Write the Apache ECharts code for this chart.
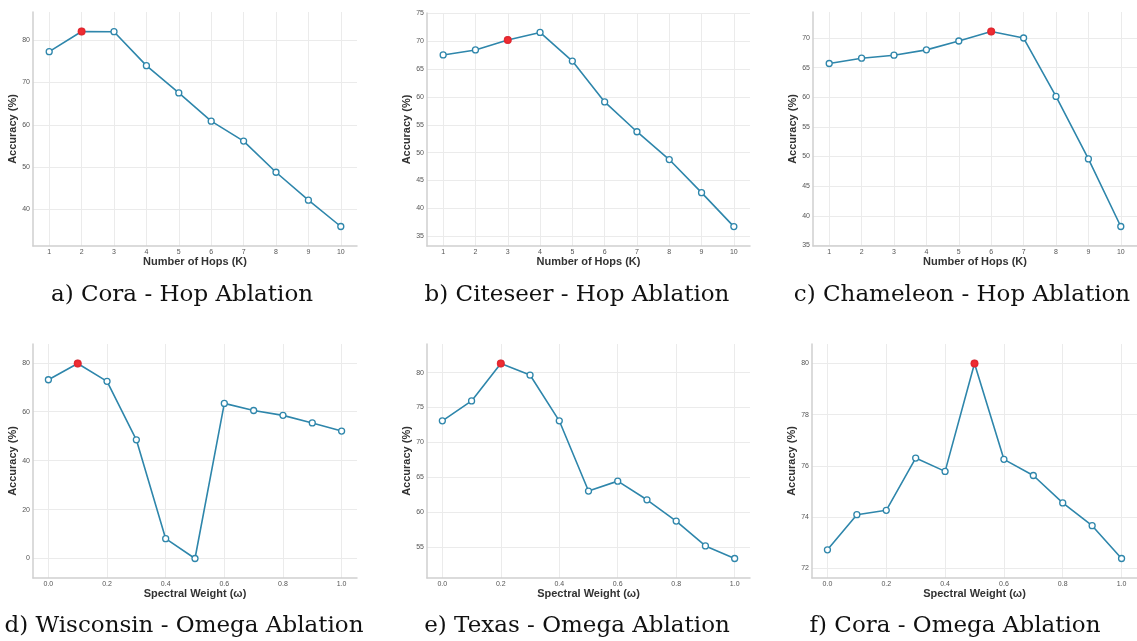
<!DOCTYPE html>
<html>
<head>
<meta charset="utf-8">
<script src="https://cdn.jsdelivr.net/npm/echarts@6/dist/echarts.min.js"></script>
<style>
html,body{margin:0;padding:0;background:#fff;}
#c{width:1137px;height:641px;}
</style>
</head>
<body>
<div id="c"></div>
<script>
// ---------- data ----------
const hopK = [1, 2, 3, 4, 5, 6, 7, 8, 9, 10];
const coraHop = [77.25, 82.0, 81.95, 73.95, 67.5, 60.85, 56.15, 48.8, 42.2, 36.0];
const citeseerHop = [67.55, 68.45, 70.25, 71.6, 66.45, 59.1, 53.75, 48.75, 42.8, 36.7];
const chameleonHop = [65.7, 66.6, 67.1, 68.0, 69.5, 71.1, 70.0, 60.15, 49.6, 38.2];

const omega = [0.0, 0.1, 0.2, 0.3, 0.4, 0.5, 0.6, 0.7, 0.8, 0.9, 1.0];
const wisconsinOmega = [73.05, 79.7, 72.4, 48.5, 8.1, 0.0, 63.4, 60.5, 58.5, 55.4, 52.1];
const texasOmega = [73.1, 75.95, 81.3, 79.65, 73.1, 63.05, 64.47, 61.8, 58.76, 55.2, 53.4];
const coraOmega = [72.73, 74.1, 74.27, 76.31, 75.79, 80.0, 76.26, 75.63, 74.56, 73.67, 72.39];

// highlighted (best) setting per panel
const bestHop = [2, 3, 6];        // Cora, Citeseer, Chameleon
const bestOmega = [0.1, 0.2, 0.5]; // Wisconsin, Texas, Cora

// tick labels
const hopTicks = [1, 2, 3, 4, 5, 6, 7, 8, 9, 10];
const omegaTicks = [0.0, 0.2, 0.4, 0.6, 0.8, 1.0];
const yTicksCoraHop = [40, 50, 60, 70, 80];
const yTicksCiteseerHop = [35, 40, 45, 50, 55, 60, 65, 70, 75];
const yTicksChameleonHop = [35, 40, 45, 50, 55, 60, 65, 70];
const yTicksWisconsin = [0, 20, 40, 60, 80];
const yTicksTexas = [55, 60, 65, 70, 75, 80];
const yTicksCoraOmega = [72, 74, 76, 78, 80];

const captions = [
  'a) Cora - Hop Ablation', 'b) Citeseer - Hop Ablation', 'c) Chameleon - Hop Ablation',
  'd) Wisconsin - Omega Ablation', 'e) Texas - Omega Ablation', 'f) Cora - Omega Ablation'
];
const xTitleHop = 'Number of Hops (K)';
const xTitleOmega = 'Spectral Weight (ω)';
const yTitle = 'Accuracy (%)';

// ---------- layout ----------
const panels = [
  {x: hopK, y: coraHop, best: bestHop[0], yt: yTicksCoraHop, xt: hopTicks, xmin: 0.5, xmax: 10.5, xname: xTitleHop, fmt: v => String(v),
   grid: {left: 33, top: 12, width: 324, height: 234}, cap: [182, 295]},
  {x: hopK, y: citeseerHop, best: bestHop[1], yt: yTicksCiteseerHop, xt: hopTicks, xmin: 0.5, xmax: 10.5, xname: xTitleHop, fmt: v => String(v),
   grid: {left: 427, top: 13, width: 323, height: 233}, cap: [577, 295]},
  {x: hopK, y: chameleonHop, best: bestHop[2], yt: yTicksChameleonHop, xt: hopTicks, xmin: 0.5, xmax: 10.5, xname: xTitleHop, fmt: v => String(v),
   grid: {left: 813, top: 12, width: 324, height: 234}, cap: [962, 295]},
  {x: omega, y: wisconsinOmega, best: bestOmega[0], yt: yTicksWisconsin, xt: omegaTicks, xmin: -0.0525, xmax: 1.0525, xname: xTitleOmega, fmt: v => Number(v).toFixed(1),
   grid: {left: 33, top: 344, width: 324, height: 234}, cap: [184, 626]},
  {x: omega, y: texasOmega, best: bestOmega[1], yt: yTicksTexas, xt: omegaTicks, xmin: -0.0525, xmax: 1.0525, xname: xTitleOmega, fmt: v => Number(v).toFixed(1),
   grid: {left: 427, top: 344, width: 323, height: 234}, cap: [577, 626]},
  {x: omega, y: coraOmega, best: bestOmega[2], yt: yTicksCoraOmega, xt: omegaTicks, xmin: -0.0525, xmax: 1.0525, xname: xTitleOmega, fmt: v => Number(v).toFixed(1),
   grid: {left: 812, top: 344, width: 325, height: 234}, cap: [955, 626]}
];

const LINE = '#2E86AB';
const RED = '#EE2228';
const SPINE = '#CFCFCF';
const GRIDC = '#EBEBEB';
const TICKC = '#555555';

const option = {
  backgroundColor: '#ffffff',
  animation: false,
  grid: [], xAxis: [], yAxis: [], series: [], graphic: []
};

panels.forEach((p, i) => {
  const lo = Math.min(...p.y), hi = Math.max(...p.y), pad = (hi - lo) * 0.1;
  option.grid.push(Object.assign({containLabel: false}, p.grid));
  option.xAxis.push({
    type: 'value', gridIndex: i, min: p.xmin, max: p.xmax,
    name: p.xname, nameLocation: 'middle', nameGap: 9,
    nameTextStyle: {fontFamily: 'Liberation Sans', fontWeight: 'bold', fontSize: 11, color: '#333'},
    axisLine: {show: true, onZero: false, lineStyle: {color: SPINE, width: 1.5}},
    axisTick: {show: false, customValues: p.xt},
    axisLabel: {customValues: p.xt, formatter: p.fmt, fontSize: 7, color: TICKC, margin: 3, fontFamily: 'Liberation Sans'},
    splitLine: {show: true, lineStyle: {color: GRIDC, width: 1}}
  });
  option.yAxis.push({
    type: 'value', gridIndex: i, min: lo - pad, max: hi + pad,
    name: yTitle, nameLocation: 'middle', nameGap: 11, nameRotate: 90,
    nameTextStyle: {fontFamily: 'Liberation Sans', fontWeight: 'bold', fontSize: 11, color: '#333'},
    axisLine: {show: true, onZero: false, lineStyle: {color: SPINE, width: 1.5}},
    axisTick: {show: false, customValues: p.yt},
    axisLabel: {customValues: p.yt, fontSize: 7, color: TICKC, margin: 3, fontFamily: 'Liberation Sans'},
    splitLine: {show: true, lineStyle: {color: GRIDC, width: 1}}
  });
  option.series.push({
    type: 'line', xAxisIndex: i, yAxisIndex: i,
    data: p.x.map((xv, j) => [xv, p.y[j]]),
    lineStyle: {color: LINE, width: 1.6},
    symbol: 'circle', symbolSize: 6,
    itemStyle: {color: '#ffffff', borderColor: LINE, borderWidth: 1.3},
    emphasis: {disabled: true}, z: 2
  });
  const bi = p.x.findIndex(v => Math.abs(v - p.best) < 1e-9);
  option.series.push({
    type: 'scatter', xAxisIndex: i, yAxisIndex: i,
    data: [[p.x[bi], p.y[bi]]],
    symbol: 'circle', symbolSize: 8,
    itemStyle: {color: RED, opacity: 0.95},
    emphasis: {disabled: true}, z: 3
  });
  option.graphic.push({
    type: 'text', x: p.cap[0], y: p.cap[1],
    style: {text: captions[i], fontFamily: 'DejaVu Serif', fontSize: 23, fill: '#111', align: 'center', verticalAlign: 'middle'}
  });
});

const chart = echarts.init(document.getElementById('c'), null, {renderer: 'canvas'});
chart.setOption(option);
</script>
</body>
</html>
